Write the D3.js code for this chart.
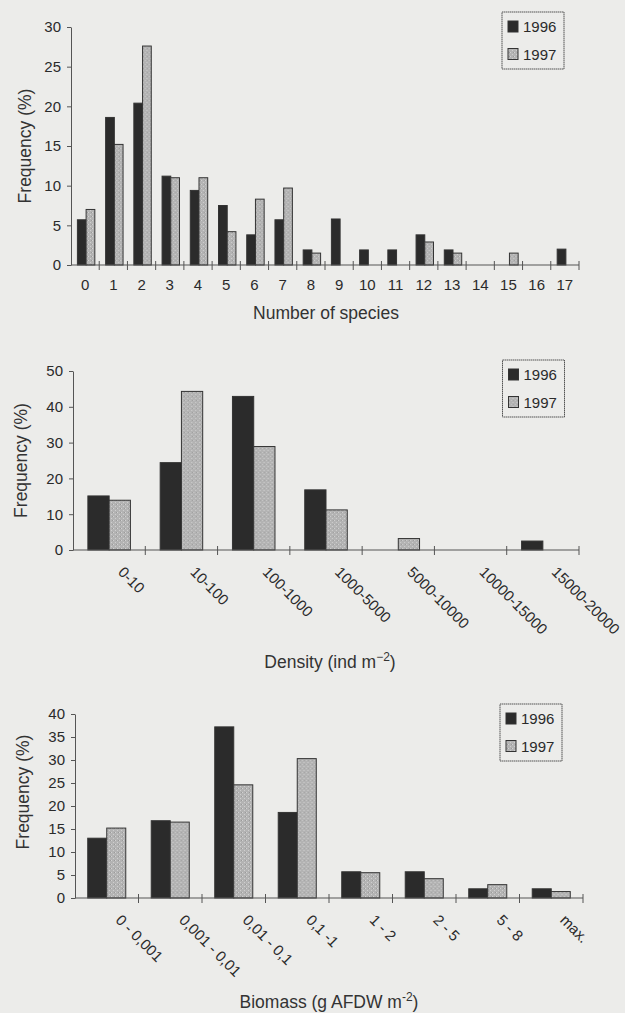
<!DOCTYPE html>
<html>
<head>
<meta charset="utf-8">
<script src="https://cdn.jsdelivr.net/npm/d3@7"></script>
<style>
  html, body { margin: 0; padding: 0; background: #ececea; }
  svg { display: block; font-family: "Liberation Sans", Arial, sans-serif; }
  .tick text { fill: #2a2a2a; }
</style>
</head>
<body>
<svg id="chart" width="625" height="1013"></svg>
<script>
const years = ['1996', '1997'];

// panel 1 - number of species
const speciesCats = ['0','1','2','3','4','5','6','7','8','9','10','11','12','13','14','15','16','17'];
const species1996 = [5.7, 18.6, 20.4, 11.2, 9.4, 7.5, 3.8, 5.7, 1.9, 5.8, 1.9, 1.9, 3.8, 1.9, 0, 0, 0, 2.0];
const species1997 = [7.0, 15.2, 27.6, 11.0, 11.0, 4.2, 8.3, 9.7, 1.5, 0, 0, 0, 2.9, 1.5, 0, 1.5, 0, 0];
const speciesTicks = [0, 5, 10, 15, 20, 25, 30];

// panel 2 - density
const densityCats = ['0-10', '10-100', '100-1000', '1000-5000', '5000-10000', '10000-15000', '15000-20000'];
const density1996 = [15.1, 24.4, 42.9, 16.8, 0, 0, 2.5];
const density1997 = [13.9, 44.3, 28.9, 11.2, 3.2, 0, 0];
const densityTicks = [0, 10, 20, 30, 40, 50];

// panel 3 - biomass
const biomassCats = ['0 - 0,001', '0,001 - 0,01', '0,01 - 0,1', '0,1 -1', '1 - 2', '2 - 5', '5 - 8', 'max.'];
const biomass1996 = [13.0, 16.8, 37.2, 18.6, 5.7, 5.7, 2.0, 2.0];
const biomass1997 = [15.2, 16.5, 24.6, 30.3, 5.5, 4.2, 2.9, 1.4];
const biomassTicks = [0, 5, 10, 15, 20, 25, 30, 35, 40];

const svg = d3.select('#chart');

// stippled grey fill for the 1997 bars
const defs = svg.append('defs');
const pat = defs.append('pattern')
  .attr('id', 'stipple')
  .attr('patternUnits', 'userSpaceOnUse')
  .attr('width', 4).attr('height', 4);
pat.append('rect').attr('width', 4).attr('height', 4).attr('fill', '#b3b3b3');
pat.append('rect').attr('x', 0).attr('y', 0).attr('width', 1).attr('height', 1).attr('fill', '#d2d2d2');
pat.append('rect').attr('x', 2).attr('y', 2).attr('width', 1).attr('height', 1).attr('fill', '#cfcfcf');
pat.append('rect').attr('x', 3).attr('y', 0).attr('width', 1).attr('height', 1).attr('fill', '#9a9a9a');

const fills = { '1996': '#2b2b2b', '1997': 'url(#stipple)' };

function drawPanel(cfg) {
  const g = svg.append('g');

  const x = d3.scaleBand()
    .domain(cfg.cats)
    .range([cfg.left, cfg.right])
    .padding(0);

  const xs = d3.scaleBand()
    .domain(years)
    .range([0, x.bandwidth()])
    .paddingInner(0)
    .paddingOuter(cfg.barPad);

  const y = d3.scaleLinear()
    .domain([0, d3.max(cfg.ticks)])
    .range([cfg.bottom, cfg.top]);

  const rows = cfg.cats.map((c, i) => ({ cat: c, '1996': cfg.s96[i], '1997': cfg.s97[i] }));

  // bars
  const groups = g.selectAll('.grp')
    .data(rows)
    .enter().append('g')
      .attr('class', 'grp')
      .attr('transform', d => `translate(${x(d.cat) + cfg.shift},0)`);

  groups.selectAll('rect')
    .data(d => years.map(k => ({ key: k, value: d[k] })).filter(v => v.value > 0))
    .enter().append('rect')
      .attr('x', d => xs(d.key))
      .attr('y', d => y(d.value))
      .attr('width', xs.bandwidth())
      .attr('height', d => y(0) - y(d.value))
      .attr('fill', d => fills[d.key])
      .attr('stroke', '#333')
      .attr('stroke-width', 1);

  // y axis
  const yAxis = g.append('g')
    .attr('transform', `translate(${cfg.left},0)`)
    .call(d3.axisLeft(y).tickValues(cfg.ticks).tickSize(4).tickPadding(6).tickSizeOuter(0));
  yAxis.selectAll('text').style('font-size', '15px');
  yAxis.selectAll('line, path').attr('stroke', '#555');

  // x axis: line plus crossing ticks at the category boundaries
  const bounds = cfg.cats.map(c => x(c)).concat([cfg.right]);
  g.append('line')
    .attr('x1', cfg.left).attr('x2', cfg.right)
    .attr('y1', y(0)).attr('y2', y(0))
    .attr('stroke', '#555');
  g.selectAll('.xtick')
    .data(bounds.slice(1))
    .enter().append('line')
      .attr('x1', d => d).attr('x2', d => d)
      .attr('y1', y(0) - 4).attr('y2', y(0) + 5)
      .attr('stroke', '#555');

  const labels = g.selectAll('.xlab')
    .data(cfg.cats)
    .enter().append('text')
      .attr('fill', '#2a2a2a')
      .style('font-size', '15px')
      .text(d => d);

  if (cfg.rotate) {
    labels
      .attr('text-anchor', 'start')
      .attr('transform', d => `translate(${x(d) + x.bandwidth() / 2 + 8},${y(0) + 23}) rotate(45)`);
  } else {
    labels
      .attr('text-anchor', 'middle')
      .attr('x', d => x(d) + x.bandwidth() / 2)
      .attr('y', y(0) + 25);
  }

  // axis titles
  g.append('text')
    .attr('transform', `translate(${cfg.yTitleX},${(cfg.top + cfg.bottom) / 2 + cfg.yTitleDy}) rotate(-90)`)
    .attr('text-anchor', 'middle')
    .attr('fill', '#333')
    .style('font-size', '17.5px')
    .text('Frequency (%)');

  const xt = g.append('text')
    .attr('x', cfg.titleX)
    .attr('y', cfg.titleY)
    .attr('text-anchor', 'middle')
    .attr('fill', '#333')
    .style('font-size', '17.5px');
  xt.append('tspan').text(cfg.title);
  if (cfg.sup) {
    xt.append('tspan').attr('dy', -7).style('font-size', '12px').text(cfg.sup);
    xt.append('tspan').attr('dy', 7).text(')');
  }

  // legend
  const lg = g.append('g').attr('transform', `translate(${cfg.legend[0]},${cfg.legend[1]})`);
  lg.append('rect')
    .attr('width', 62).attr('height', 57)
    .attr('fill', 'none')
    .attr('stroke', '#555')
    .attr('stroke-dasharray', '1.5,0.5');
  years.forEach((k, i) => {
    lg.append('rect')
      .attr('x', 6).attr('y', 9 + i * 27.5)
      .attr('width', 10).attr('height', 11)
      .attr('fill', fills[k])
      .attr('stroke', '#333');
    lg.append('text')
      .attr('x', 21).attr('y', 20 + i * 27.5)
      .attr('fill', '#2a2a2a')
      .style('font-size', '15px')
      .text(k);
  });
}

drawPanel({
  cats: speciesCats, s96: species1996, s97: species1997, ticks: speciesTicks,
  left: 71, right: 579, top: 27, bottom: 265, barPad: 0.62, shift: 1,
  rotate: false, yTitleX: 31, yTitleDy: 0,
  title: 'Number of species', titleX: 326, titleY: 319,
  legend: [502, 12]
});

drawPanel({
  cats: densityCats, s96: density1996, s97: density1997, ticks: densityTicks,
  left: 73, right: 579, top: 371, bottom: 550, barPad: 0.7, shift: 0,
  rotate: true, yTitleX: 27, yTitleDy: 0,
  title: 'Density (ind m', sup: '\u22122', titleX: 330, titleY: 668,
  legend: [502.5, 360]
});

drawPanel({
  cats: biomassCats, s96: biomass1996, s97: biomass1997, ticks: biomassTicks,
  left: 75, right: 583, top: 714, bottom: 898, barPad: 0.67, shift: 0,
  rotate: true, yTitleX: 29, yTitleDy: -14,
  title: 'Biomass (g AFDW m', sup: '-2', titleX: 329, titleY: 1008,
  legend: [500, 704]
});
</script>
</body>
</html>
